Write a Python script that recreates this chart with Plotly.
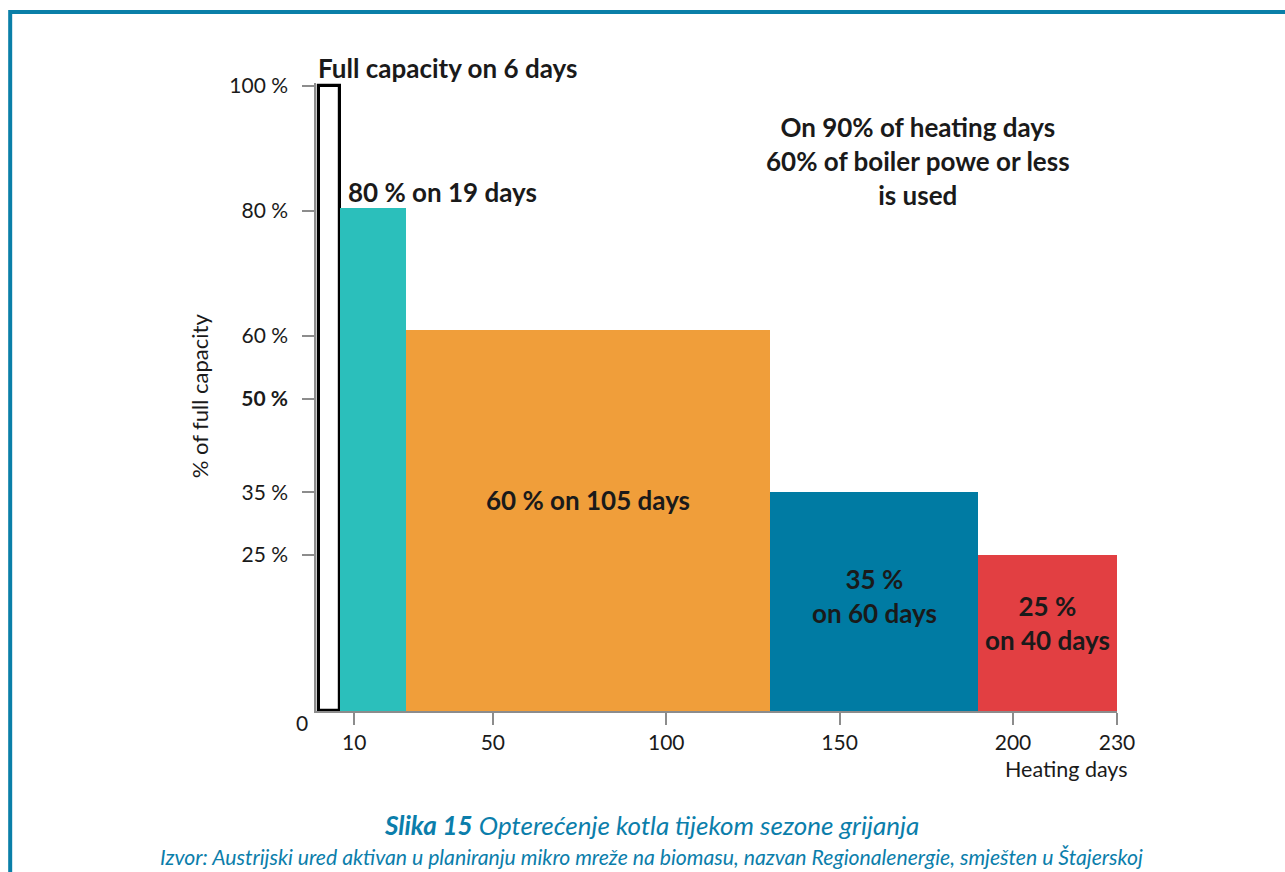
import plotly.graph_objects as go

# ---- data ----
segment_days = [6, 19, 105, 60, 40]             # heating days per load level
segment_load = [100, 80.5, 61, 35, 25]          # % of full capacity (as drawn)
segment_colors = ["#ffffff", "#2bbfbb", "#f09e3a", "#007ba3", "#e23f42"]
segment_labels = [None, "80 % on 19 days", "60 % on 105 days",
                  "35 %<br>on 60 days", "25 %<br>on 40 days"]
y_tickvals = [25, 35, 50, 60, 80, 100]
y_ticktext = ["25 %", "35 %", "<b>50 %</b>", "60 %", "80 %", "100 %"]
x_tickvals = [10, 50, 100, 150, 200, 230]
x_ticktext = ["10", "50", "100", "150", "200", "230"]

starts = []
acc = 0
for d in segment_days:
    starts.append(acc)
    acc += d

W, H = 1285, 872
ML, MR, MT, MB = 315.5, 168, 83, 160.5
PW, PH = W - ML - MR, H - MT - MB


def px(x):
    return (x - ML) / PW


def py(y):
    return 1 - (y - MT) / PH


FONT = "Lato"
TXT = "#1a1a1a"
BOLD = 26

fig = go.Figure()
fig.add_trace(go.Bar(
    x=starts, y=segment_load, width=segment_days, offset=0,
    marker=dict(color=segment_colors,
                line=dict(color=["#000000", "rgba(0,0,0,0)", "rgba(0,0,0,0)",
                                 "rgba(0,0,0,0)", "rgba(0,0,0,0)"],
                          width=[3.2, 0, 0, 0, 0])),
    hoverinfo="skip", showlegend=False,
))

ann = []


def bold_text(text, x, y, xref, yref, xanchor="center", size=BOLD):
    ann.append(dict(x=x, y=y, xref=xref, yref=yref,
                    text="<b>" + text + "</b>",
                    showarrow=False, xanchor=xanchor, yanchor="middle",
                    align="center",
                    font=dict(family=FONT, size=size, color=TXT)))


# labels inside / above bars
label_y_px = {1: 192, 2: 500, 3: 596, 4: 623}
for i, lab in enumerate(segment_labels):
    if lab is None:
        continue
    if i == 1:
        bold_text(lab, px(346), py(label_y_px[i]), "paper", "paper", xanchor="left")
    else:
        cx = starts[i] + segment_days[i] / 2
        bold_text(lab, cx, py(label_y_px[i]), "x", "paper")

bold_text("Full capacity on 6 days", px(315), py(68), "paper", "paper", xanchor="left")
bold_text("On 90% of heating days<br>60% of boiler powe or less<br>is used",
          px(918), py(161), "paper", "paper")

ann.append(dict(x=px(301), y=py(723), xref="paper", yref="paper", text="0",
                showarrow=False, xanchor="center", yanchor="middle",
                font=dict(family=FONT, size=21, color=TXT)))
ann.append(dict(x=px(1130), y=py(770), xref="paper", yref="paper", text="Heating days",
                showarrow=False, xanchor="right", yanchor="middle",
                font=dict(family=FONT, size=21.5, color=TXT)))
ann.append(dict(x=px(199), y=py(396), xref="paper", yref="paper",
                text="% of full capacity", textangle=-90,
                showarrow=False, xanchor="center", yanchor="middle",
                font=dict(family=FONT, size=22, color=TXT)))
ann.append(dict(x=px(651), y=py(826), xref="paper", yref="paper",
                text="<b><i>Slika 15</i></b><i> Opterećenje kotla tijekom sezone grijanja</i>",
                showarrow=False, xanchor="center", yanchor="middle",
                font=dict(family=FONT, size=26, color="#0b7eab")))
ann.append(dict(x=px(651), y=py(858), xref="paper", yref="paper",
                text="<i>Izvor: Austrijski ured aktivan u planiranju mikro mreže na biomasu, nazvan Regionalenergie, smješten u Štajerskoj</i>",
                showarrow=False, xanchor="center", yanchor="middle",
                font=dict(family=FONT, size=21.2, color="#0b7eab")))

shapes = [dict(type="path", xref="paper", yref="paper",
               path=f"M {px(9.5)} {py(900)} L {px(9.5)} {py(12)} L {px(1300)} {py(12)}",
               line=dict(color="#0a7fa8", width=4))]

fig.update_layout(
    width=W, height=H,
    margin=dict(l=ML, r=MR, t=MT, b=MB, pad=0),
    paper_bgcolor="white", plot_bgcolor="white",
    bargap=0,
    annotations=ann, shapes=shapes,
    xaxis=dict(range=[-1, 230], tickvals=x_tickvals, ticktext=x_ticktext,
               showgrid=False, zeroline=False, showline=True,
               linecolor="#8c8c8c", linewidth=1.5,
               ticks="outside", ticklen=12, tickwidth=1.5, tickcolor="#8c8c8c",
               tickfont=dict(family=FONT, size=21, color=TXT)),
    yaxis=dict(range=[0, 100.5], tickvals=y_tickvals, ticktext=y_ticktext,
               showgrid=False, zeroline=False, showline=True,
               linecolor="#8c8c8c", linewidth=1.5,
               ticks="outside", ticklen=12, tickwidth=1.5, tickcolor="#8c8c8c",
               ticklabelstandoff=10,
               tickfont=dict(family=FONT, size=21, color=TXT)),
)

fig.write_html("out.html")
